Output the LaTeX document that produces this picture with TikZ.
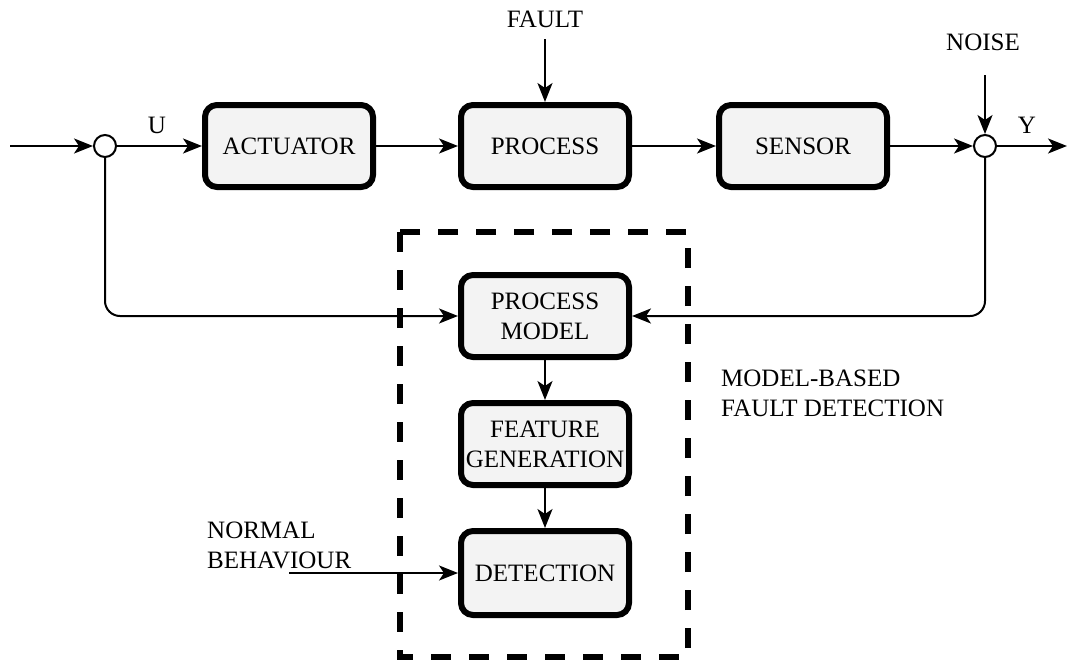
\documentclass[tikz,border=0pt]{standalone}
\usepackage{fontspec}
\setmainfont{Liberation Serif}
\newfontfamily\diagfont{Liberation Serif}
\usetikzlibrary{arrows.meta}
\definecolor{boxfill}{HTML}{F3F3F3}
\begin{document}
\begin{tikzpicture}[x=1pt,y=-1pt,
  block/.style={draw, line width=6pt, rounded corners=12pt, fill=boxfill,
    minimum width=168pt, minimum height=82pt, align=center, inner sep=0pt,
    outer sep=3pt, font=\diagfont\fontsize{25}{30}\selectfont},
  sumpt/.style={draw, circle, line width=2pt, fill=white, minimum size=22pt,
    inner sep=0pt, outer sep=1pt},
  lbl/.style={font=\diagfont\fontsize{25}{30}\selectfont, inner sep=0pt},
  sig/.style={line width=2pt, -{Stealth[length=19pt,width=15pt,inset=5pt]}},
  frame/.style={line width=6pt, dash pattern=on 20pt off 18pt}
]
\useasboundingbox (0,0) rectangle (1068,662);

% dashed frame of the fault detection part
\draw[frame] (400,232) rectangle (688,657);

% forward path
\node[sumpt] (uj) at (105,146) {};
\node[block] (act) at (289,146) {ACTUATOR};
\node[block] (proc) at (545,146) {PROCESS};
\node[block] (sens) at (803,146) {SENSOR};
\node[sumpt] (yj) at (985,146) {};

% fault detection blocks
\node[block] (pm) at (545,316) {PROCESS\\MODEL};
\node[block] (fg) at (545,444) {FEATURE\\GENERATION};
\node[block, minimum height=84pt] (det) at (545,573) {DETECTION};

% labels
\node[lbl] (u) at (157,125) {U};
\node[lbl] (y) at (1027,125) {Y};
\node[lbl] (fault) at (545,19) {FAULT};
\node[lbl] (noise) at (983,42) {NOISE};
\node[lbl, align=left, anchor=west] (nb) at (207,545) {NORMAL\\BEHAVIOUR};
\node[lbl, align=left, anchor=west] (mbfd) at (721,393) {MODEL-BASED\\FAULT DETECTION};

% free ends of connectors
\coordinate (in) at (10,146);
\coordinate (out) at (1067,146);
\coordinate (faultin) at (545,39);
\coordinate (noisein) at (985,75);
\coordinate (nbin) at (289,573);

% connectors
\draw[sig] (in) -- (uj.west);
\draw[sig] (uj.east) -- (act.west);
\draw[sig] (act.east) -- (proc.west);
\draw[sig] (proc.east) -- (sens.west);
\draw[sig] (sens.east) -- (yj.west);
\draw[sig] (yj.east) -- (out);
\draw[sig] (faultin) -- (proc.north);
\draw[sig] (noisein) -- (yj.north);
\draw[sig, rounded corners=15pt] (uj.south) |- (pm.west);
\draw[sig, rounded corners=15pt] (yj.south) |- (pm.east);
\draw[sig] (pm.south) -- (fg.north);
\draw[sig] (fg.south) -- (det.north);
\draw[sig] (nbin) -- (det.west);
\end{tikzpicture}
\end{document}
